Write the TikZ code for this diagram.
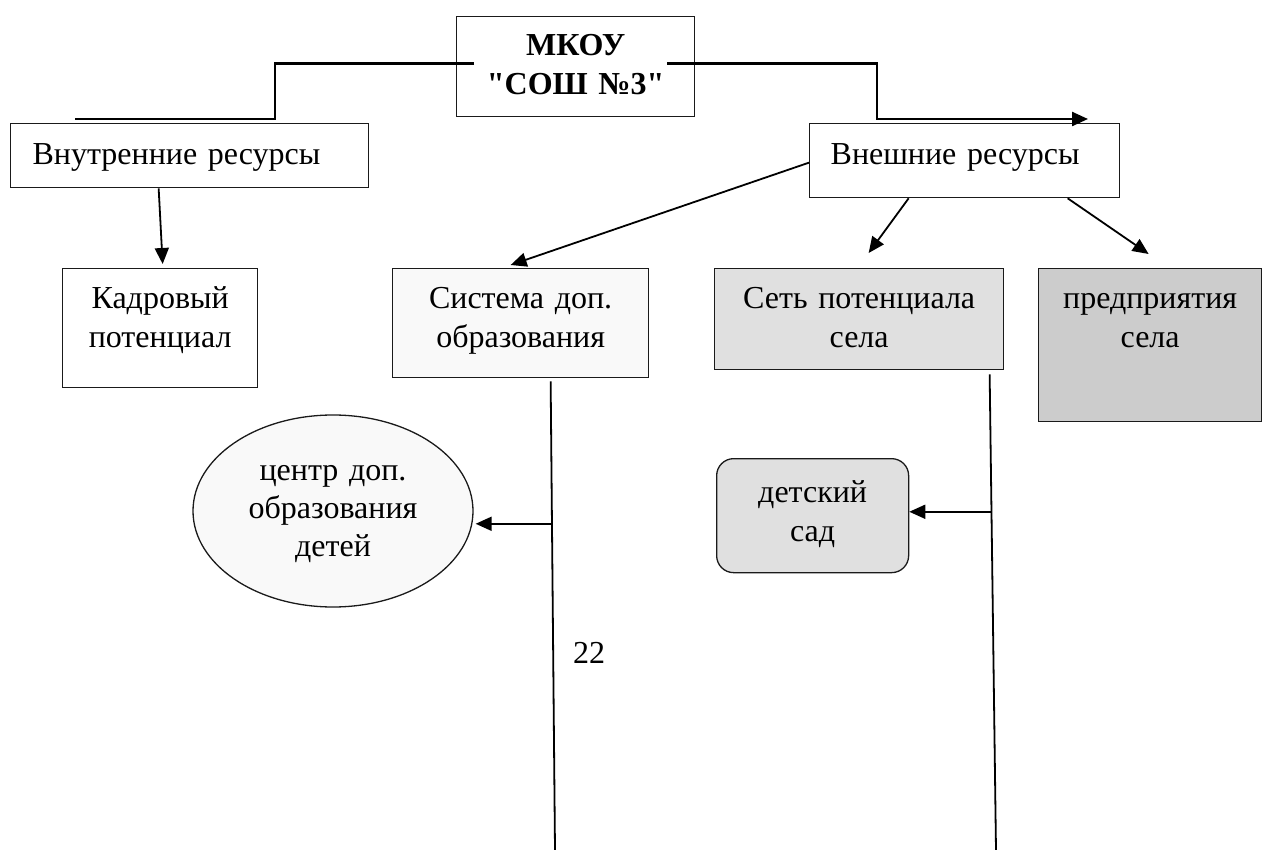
\documentclass[tikz,border=0pt]{standalone}
\usepackage{fontspec}
\setmainfont{Liberation Serif}
\newfontfamily\schoolfont{Liberation Serif}
\usetikzlibrary{arrows.meta,positioning,calc,shapes.geometric}
\definecolor{PaleFill}{HTML}{F9F9F9}
\definecolor{LiteFill}{HTML}{E0E0E0}
\definecolor{MidFill}{HTML}{CCCCCC}
\definecolor{Edge}{HTML}{1A1A1A}
\tikzset{
  every picture/.append style={font=\fontsize{32}{38.5}\selectfont, >=Stealth},
  cell/.style={rectangle, draw=Edge, line width=1.3pt, anchor=north west,
               inner xsep=0pt, inner ysep=0pt, align=center},
  lcell/.style={cell, align=left},
  oval/.style={ellipse, draw=Edge, line width=1.3pt, inner sep=0pt, align=center},
  link/.style={line width=1.8pt, draw=black},
  bus/.style={link, line width=2.4pt},
  arr/.style={link, -{Triangle[length=16pt,width=14pt]}},
}

\begin{document}
\begin{tikzpicture}[x=1pt,y=-1pt]
\useasboundingbox (0,0) rectangle (1262,850);

% ======================= top: school and the two resource groups ===================
\node[cell, text width=238pt, text height=39pt, text depth=61pt,
      font={\fontsize{32}{38.5}\selectfont\schoolfont\bfseries}] (mkou) at (456,16)
  {МКОУ\\"СОШ №3"};
\node[lcell, inner xsep=22pt, text width=314pt, text height=41pt, text depth=23pt]
  (vnutr) at (10,123) {Внутренние ресурсы};
\node[lcell, inner xsep=21pt, text width=268pt, text height=41pt, text depth=33pt]
  (vnesh) at (809,123) {Внешние ресурсы};
\coordinate (lend) at (75,119);
\coordinate (rend) at (1088,119);

% ======================= second row ================================================
\node[cell, text width=195pt, text height=40pt, text depth=79pt] (kadr) at (62,268)
  {Кадровый\\потенциал};
\node[cell, fill=PaleFill, text width=256pt, text height=40pt, text depth=69pt]
  (sist) at (392,268) {Система доп.\\образования};
\node[cell, fill=LiteFill, text width=289pt, text height=40pt, text depth=61pt]
  (set) at (714,268) {Сеть потенциала\\села};
\node[cell, fill=MidFill, text width=223pt, text height=40pt, text depth=113pt]
  (predpr) at (1038,268) {предприятия\\села};

% ======================= third row =================================================
\node[oval, fill=PaleFill, minimum width=280pt, minimum height=192pt,
      text width=190pt, text height=20pt, text depth=82pt] (centr)
  at (333,511) {центр доп.\\образования\\детей};
\node[cell, fill=LiteFill, rounded corners=17pt, text width=192pt, text height=44pt,
      text depth=70pt] (sad) at (716,458) {детский\\сад};
\node (pnum) at (589,653) {22};
\coordinate (sbot) at (555,850);
\coordinate (tbot) at (996,850);

% ======================= connectors ================================================
\draw[bus] ([xshift=18pt,yshift=3pt]mkou.west) -| ([xshift=200pt]lend) -- (lend);
\draw[bus, -{Triangle[length=16pt,width=14pt]}]
  ([xshift=-28pt,yshift=3pt]mkou.east) -| ([xshift=-211pt]rend) -- (rend);
\draw[arr] ([xshift=-31pt]vnutr.south) -- ([xshift=2.5pt,yshift=4pt]kadr.north);
\draw[arr] ([yshift=-2pt]vnesh.west) -- ([xshift=-10pt,yshift=3pt]sist.north);
\draw[arr] ([xshift=-56pt]vnesh.south) -- ([xshift=9.5pt,yshift=15pt]set.north);
\draw[arr] ([xshift=103pt]vnesh.south) -- ([xshift=-1.5pt,yshift=14pt]predpr.north);
% long drop lines with side branches
\draw[link] ([xshift=30pt,yshift=-3pt]sist.south) -- coordinate[pos=0.304] (sj) (sbot);
\draw[arr] (sj) -- ([xshift=2pt]sj -| centr.east);
\draw[link] ([xshift=130.5pt,yshift=-4pt]set.south) -- coordinate[pos=0.289] (tj) (tbot);
\draw[arr] (tj) -- (tj -| sad.east);

\end{tikzpicture}
\end{document}
